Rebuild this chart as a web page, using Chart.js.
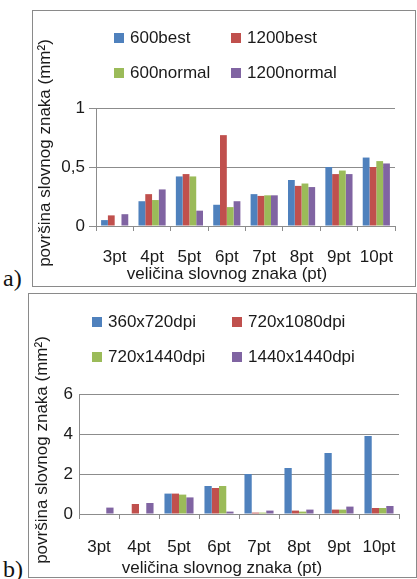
<!DOCTYPE html>
<html>
<head>
<meta charset="utf-8">
<script src="https://cdn.jsdelivr.net/npm/chart.js@4.4.0/dist/chart.umd.min.js"></script>
<style>
  html, body { margin: 0; padding: 0; background: #fff; }
  body { width: 417px; height: 579px; position: relative; overflow: hidden; }
  .panel { position: absolute; box-sizing: border-box; border: 1px solid #8a8a8a; background: #fff; }
  .panel canvas { display: block; }
  .tag { position: absolute; font-family: "Liberation Serif", "Times New Roman", serif; font-size: 24px; line-height: 1; color: #111; }
</style>
</head>
<body>
<div class="panel" style="left:32px;top:10px;width:384px;height:277px"><canvas id="chart-a" width="382" height="275"></canvas></div>
<div class="tag" style="left:3px;top:266px">a)</div>
<div class="panel" style="left:28px;top:293px;width:389px;height:285px"><canvas id="chart-b" width="387" height="283"></canvas></div>
<div class="tag" style="left:3px;top:557px">b)</div>

<script>
// Font sizes (pt) on the x axis
const sizes = ['3pt', '4pt', '5pt', '6pt', '7pt', '8pt', '9pt', '10pt'];

// a) laser printer, area in mm2
const labelsA = ['600best', '1200best', '600normal', '1200normal'];
const best600 = [0.05, 0.21, 0.42, 0.18, 0.27, 0.39, 0.50, 0.58];
const best1200 = [0.09, 0.27, 0.44, 0.77, 0.255, 0.34, 0.44, 0.50];
const normal600 = [null, 0.22, 0.42, 0.16, 0.26, 0.36, 0.47, 0.55];
const normal1200 = [0.10, 0.31, 0.13, 0.21, 0.26, 0.33, 0.44, 0.53];
const yTicksA = [0, 0.5, 1];

// b) inkjet resolutions, area in mm2
const labelsB = ['360x720dpi', '720x1080dpi', '720x1440dpi', '1440x1440dpi'];
const dpi360x720 = [null, null, 1.02, 1.40, 2.00, 2.30, 3.05, 3.90];
const dpi720x1080 = [null, 0.50, 1.02, 1.30, 0.07, 0.17, 0.22, 0.30];
const dpi720x1440 = [null, null, 0.97, 1.40, 0.07, 0.12, 0.22, 0.30];
const dpi1440x1440 = [0.32, 0.55, 0.83, 0.12, 0.17, 0.22, 0.37, 0.40];
const yTicksB = [0, 2, 4, 6];

const yTitle = 'površina slovnog znaka (mm²)';
const xTitle = 'veličina slovnog znaka (pt)';

const colors = ['#4f81bd', '#c0504d', '#9bbb59', '#8064a2'];
const gridColor = '#8c8c8c';
const textColor = '#1a1a1a';
const fontFamily = '"Liberation Sans", Arial, sans-serif';
const fontSize = 17;

// Legend in a 2x2 grid plus both axis titles, centred on the whole panel
const panelText = {
    id: 'panelText',
    afterDraw(chart, args, opts) {
        const ctx = chart.ctx;
        ctx.save();
        ctx.font = fontSize + 'px ' + fontFamily;
        ctx.textBaseline = 'middle';
        ctx.textAlign = 'left';
        chart.data.datasets.forEach((ds, i) => {
            const x = opts.legendX[i % 2];
            const y = opts.legendY[Math.floor(i / 2)];
            ctx.fillStyle = ds.backgroundColor;
            ctx.fillRect(x, y - 5, 10, 10);
            ctx.fillStyle = textColor;
            ctx.fillText(ds.label, x + 16, y);
        });
        ctx.textAlign = 'center';
        ctx.fillText(xTitle, opts.xTitleAt[0], opts.xTitleAt[1]);
        ctx.translate(opts.yTitleAt[0], opts.yTitleAt[1]);
        ctx.rotate(-Math.PI / 2);
        ctx.fillText(yTitle, 0, 0);
        ctx.restore();
    }
};

function makeChart(id, labels, series, yTicks, p) {
    return new Chart(document.getElementById(id), {
        type: 'bar',
        data: {
            labels: sizes,
            datasets: series.map((data, i) => ({
                label: labels[i],
                data: data,
                backgroundColor: colors[i],
                borderWidth: 0,
                barPercentage: 1,
                categoryPercentage: 0.727
            }))
        },
        options: {
            responsive: false,
            animation: false,
            layout: { padding: { left: 0, top: p.top, right: p.right, bottom: 0 } },
            plugins: {
                legend: { display: false },
                tooltip: { enabled: false },
                panelText: p.text
            },
            scales: {
                x: {
                    afterFit: (s) => { s.height = p.xHeight; },
                    grid: { drawOnChartArea: false, color: gridColor, tickLength: 5 },
                    border: { color: gridColor },
                    ticks: {
                        color: textColor,
                        font: { family: fontFamily, size: fontSize },
                        padding: p.xPad,
                        maxRotation: 0,
                        autoSkip: false
                    }
                },
                y: {
                    min: yTicks[0],
                    max: yTicks[yTicks.length - 1],
                    afterBuildTicks: (s) => { s.ticks = yTicks.map((value) => ({ value })); },
                    afterFit: (s) => { s.width = p.yWidth; },
                    grid: { color: gridColor, drawTicks: p.yTickLen > 0, tickLength: p.yTickLen },
                    border: { color: gridColor },
                    ticks: {
                        color: textColor,
                        font: { family: fontFamily, size: fontSize },
                        padding: p.yPad,
                        callback: (v) => String(v).replace('.', ',')
                    }
                }
            }
        },
        plugins: [panelText]
    });
}

makeChart('chart-a', labelsA, [best600, best1200, normal600, normal1200], yTicksA, {
    top: 97, right: 20, xHeight: 60, yWidth: 63, xPad: 16, yPad: 4, yTickLen: 7,
    text: { legendX: [81, 198], legendY: [27, 62], xTitleAt: [194, 263], yTitleAt: [12, 142] }
});

makeChart('chart-b', labelsB, [dpi360x720, dpi720x1080, dpi720x1440, dpi1440x1440], yTicksB, {
    top: 100, right: 17, xHeight: 63, yWidth: 50, xPad: 18, yPad: 6, yTickLen: 0,
    text: { legendX: [63, 203], legendY: [28, 63], xTitleAt: [193, 274], yTitleAt: [13, 156] }
});
</script>
</body>
</html>
